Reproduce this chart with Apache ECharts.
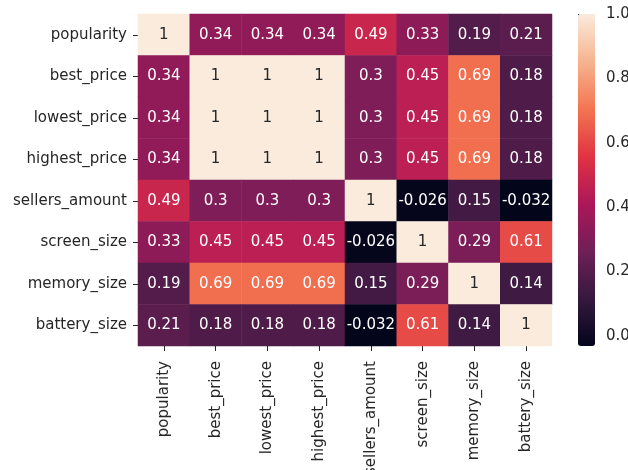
<!DOCTYPE html>
<html>
<head>
<meta charset="utf-8">
<script src="https://cdn.jsdelivr.net/npm/echarts@6/dist/echarts.min.js"></script>
<style>
  html, body { margin: 0; padding: 0; background: #ffffff; }
  #chart { width: 628px; height: 470px; }
</style>
</head>
<body>
<div id="chart"></div>
<script>
// Variable names (same order on both axes)
const features = ['popularity', 'best_price', 'lowest_price', 'highest_price',
                  'sellers_amount', 'screen_size', 'memory_size', 'battery_size'];

// Correlation matrix, one row per feature
const popularity    = [1,     0.34,  0.34,  0.34,  0.49,   0.33,   0.19,  0.21];
const bestPrice     = [0.34,  1,     1,     1,     0.3,    0.45,   0.69,  0.18];
const lowestPrice   = [0.34,  1,     1,     1,     0.3,    0.45,   0.69,  0.18];
const highestPrice  = [0.34,  1,     1,     1,     0.3,    0.45,   0.69,  0.18];
const sellersAmount = [0.49,  0.3,   0.3,   0.3,   1,     -0.026,  0.15, -0.032];
const screenSize    = [0.33,  0.45,  0.45,  0.45, -0.026,  1,      0.29,  0.61];
const memorySize    = [0.19,  0.69,  0.69,  0.69,  0.15,   0.29,   1,     0.14];
const batterySize   = [0.21,  0.18,  0.18,  0.18, -0.032,  0.61,   0.14,  1];

// Colour bar ticks
const colorbarTicks = [0, 0.2, 0.4, 0.6, 0.8, 1.0];

const rows = [popularity, bestPrice, lowestPrice, highestPrice,
              sellersAmount, screenSize, memorySize, batterySize];

let vmin = Infinity, vmax = -Infinity;
const cells = [];
rows.forEach((row, r) => row.forEach((v, c) => {
  cells.push([c, r, v]);
  vmin = Math.min(vmin, v);
  vmax = Math.max(vmax, v);
}));

// "rocket" colour map
const rocket = ['#03051a', '#35193e', '#701f57', '#ad1759',
                '#e13342', '#f37651', '#f6b48f', '#faebdd'];

const FONT = 'DejaVu Sans';
const TEXT = '#262626';

const chart = echarts.init(document.getElementById('chart'), null, { renderer: 'canvas' });
chart.setOption({
  animation: false,
  backgroundColor: '#ffffff',
  grid: [
    { left: 138, top: 14, width: 414, height: 332, containLabel: false, outerBoundsMode: 'none' },
    { left: 578, top: 14, width: 17, height: 332, containLabel: false, outerBoundsMode: 'none' }
  ],
  xAxis: [
    {
      type: 'category', gridIndex: 0, data: features,
      axisLine: { show: false },
      axisTick: { show: true, alignWithLabel: true, length: 5, lineStyle: { color: TEXT } },
      axisLabel: { rotate: 90, margin: 15, color: TEXT, fontFamily: FONT, fontSize: 15, interval: 0, hideOverlap: false },
      splitLine: { show: false }
    },
    { type: 'value', gridIndex: 1, show: false }
  ],
  yAxis: [
    {
      type: 'category', gridIndex: 0, data: features, inverse: true,
      axisLine: { show: false },
      axisTick: { show: true, alignWithLabel: true, length: 5, lineStyle: { color: TEXT } },
      axisLabel: { margin: 11, color: TEXT, fontFamily: FONT, fontSize: 15, interval: 0, padding: [3, 0, 0, 0] },
      splitLine: { show: false }
    },
    {
      type: 'value', gridIndex: 1, position: 'right', min: vmin, max: vmax,
      axisLine: { show: false },
      axisTick: { show: true, length: 5, lineStyle: { color: TEXT }, customValues: colorbarTicks },
      axisLabel: {
        margin: 11, color: TEXT, fontFamily: FONT, fontSize: 15,
        customValues: colorbarTicks,
        padding: [2, 0, 0, 0],
        formatter: v => v.toFixed(1)
      },
      splitLine: { show: false }
    }
  ],
  visualMap: {
    type: 'continuous',
    min: vmin, max: vmax,
    seriesIndex: 0,
    calculable: false,
    realtime: false,
    orient: 'vertical',
    left: 578, top: 14,
    itemWidth: 17, itemHeight: 332,
    padding: 0,
    text: null,
    showLabel: false,
    inRange: { color: rocket },
    hoverLink: false
  },
  series: [{
    type: 'heatmap',
    xAxisIndex: 0, yAxisIndex: 0,
    data: cells.map(c => ({
      value: c,
      // dark text on the light cells, white text elsewhere
      label: { color: c[2] > 0.85 ? TEXT : '#ffffff' }
    })),
    itemStyle: { borderWidth: 0 },
    label: {
      show: true,
      fontFamily: FONT,
      fontSize: 15,
      padding: [2, 0, 0, 0],
      formatter: p => String(p.value[2])
    },
    emphasis: { disabled: true }
  }]
});
</script>
</body>
</html>
